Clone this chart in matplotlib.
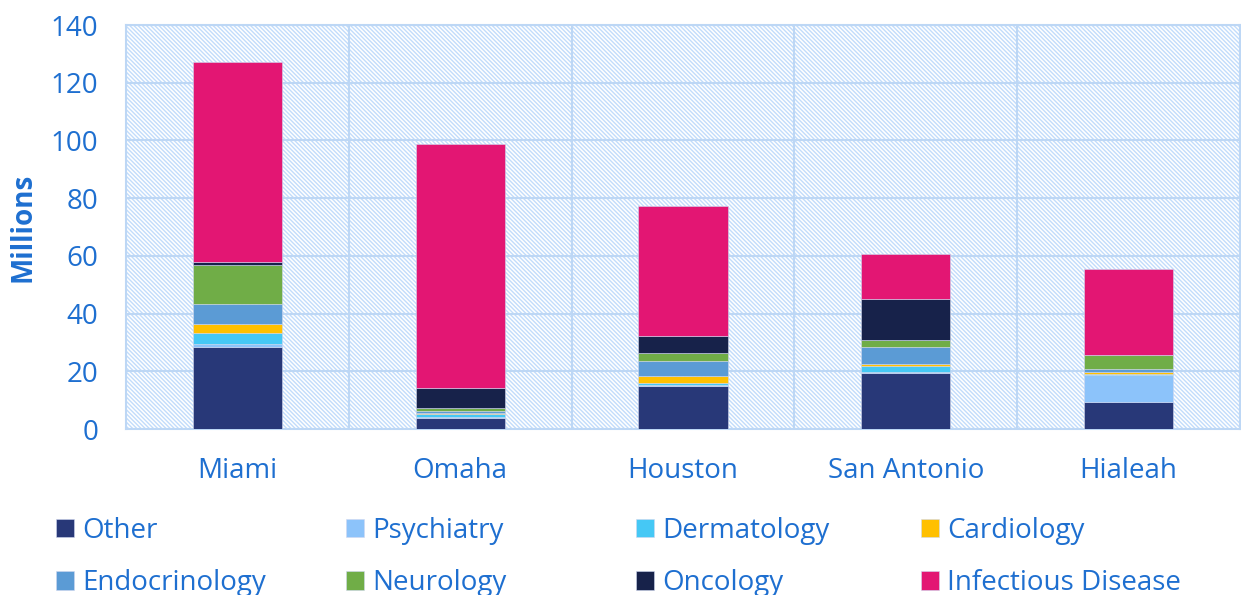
import matplotlib
matplotlib.use("Agg")
import matplotlib.pyplot as plt
from matplotlib.patches import Rectangle
import numpy as np

plt.rcParams['font.family'] = ['Open Sans', 'DejaVu Sans']

cities = ['Miami', 'Omaha', 'Houston', 'San Antonio', 'Hialeah']
specialties = ['Other', 'Psychiatry', 'Dermatology', 'Cardiology',
               'Endocrinology', 'Neurology', 'Oncology', 'Infectious Disease']
colors = ['#283878', '#8CC3FA', '#45C8F5', '#FFC000',
          '#5B9BD5', '#70AD47', '#17224A', '#E31673']

other = [28.3, 3.9, 14.9, 19.5, 9.3]
psychiatry = [1.1, 0.3, 0.5, 0.3, 9.4]
dermatology = [4.0, 1.0, 0.4, 1.9, 0.2]
cardiology = [3.0, 0.2, 2.6, 0.9, 0.9]
endocrinology = [6.9, 0.8, 5.0, 5.9, 1.1]
neurology = [13.5, 1.2, 2.8, 2.3, 4.6]
oncology = [1.0, 6.8, 6.1, 14.4, 0.3]
infectious = [69.5, 84.6, 45.0, 15.4, 29.5]

series = [other, psychiatry, dermatology, cardiology,
          endocrinology, neurology, oncology, infectious]

text_blue = '#1E6FD0'
grid_blue = '#BDD7F5'

fig = plt.figure(figsize=(12.41, 5.95), dpi=100)
ax = fig.add_axes([126 / 1241, 166 / 595, 1114 / 1241, 404 / 595])

plt.rcParams['hatch.linewidth'] = 1.0
bg = Rectangle((0, 0), 1, 1, transform=ax.transAxes, facecolor='white',
               edgecolor='#C2DCFB', hatch='\\' * 8, linewidth=0, zorder=0)
ax.add_patch(bg)

x = np.arange(len(cities))
bottom = np.zeros(len(cities))
for name, vals, c in zip(specialties, series, colors):
    ax.bar(x, vals, 0.4, bottom=bottom, color=c, label=name, zorder=3,
           edgecolor='#D0D8F0', linewidth=0.4)
    bottom += np.array(vals)

ax.set_xlim(-0.5, 4.5)
ax.set_ylim(0, 140)
ax.set_yticks(np.arange(0, 141, 20))
for yv in np.arange(20, 141, 20):
    ax.axhline(yv, color=grid_blue, linewidth=1.5, zorder=1)
for xv in np.arange(0.5, 4.5, 1):
    ax.axvline(xv, color=grid_blue, linewidth=1.5, zorder=1)

ax.set_xticks(x)
ax.set_xticklabels(cities)
ax.tick_params(axis='both', length=0, labelsize=20, colors=text_blue)
ax.tick_params(axis='y', pad=20)
ax.tick_params(axis='x', pad=20)
for s in ax.spines.values():
    s.set_color(grid_blue)
    s.set_linewidth(1.5)
ax.set_ylabel('Millions', fontsize=20, fontweight='bold', color=text_blue)
ax.yaxis.set_label_coords(-0.079, 0.5)

# legend: 4 fixed-width columns, 2 rows
handles, labels = ax.get_legend_handles_labels()
col_x = [50, 340, 630, 915]
for ci, cx in enumerate(col_x):
    idx = [ci, ci + 4]
    fig.legend([handles[i] for i in idx], [labels[i] for i in idx],
               loc='upper left', bbox_to_anchor=(cx / 1241, 1 - 511 / 595),
               frameon=False, fontsize=20, labelcolor=text_blue,
               handlelength=0.65, handleheight=0.65, handletextpad=0.3,
               labelspacing=0.88, borderaxespad=0, borderpad=0.2)

fig.savefig('out.png', dpi=100)
